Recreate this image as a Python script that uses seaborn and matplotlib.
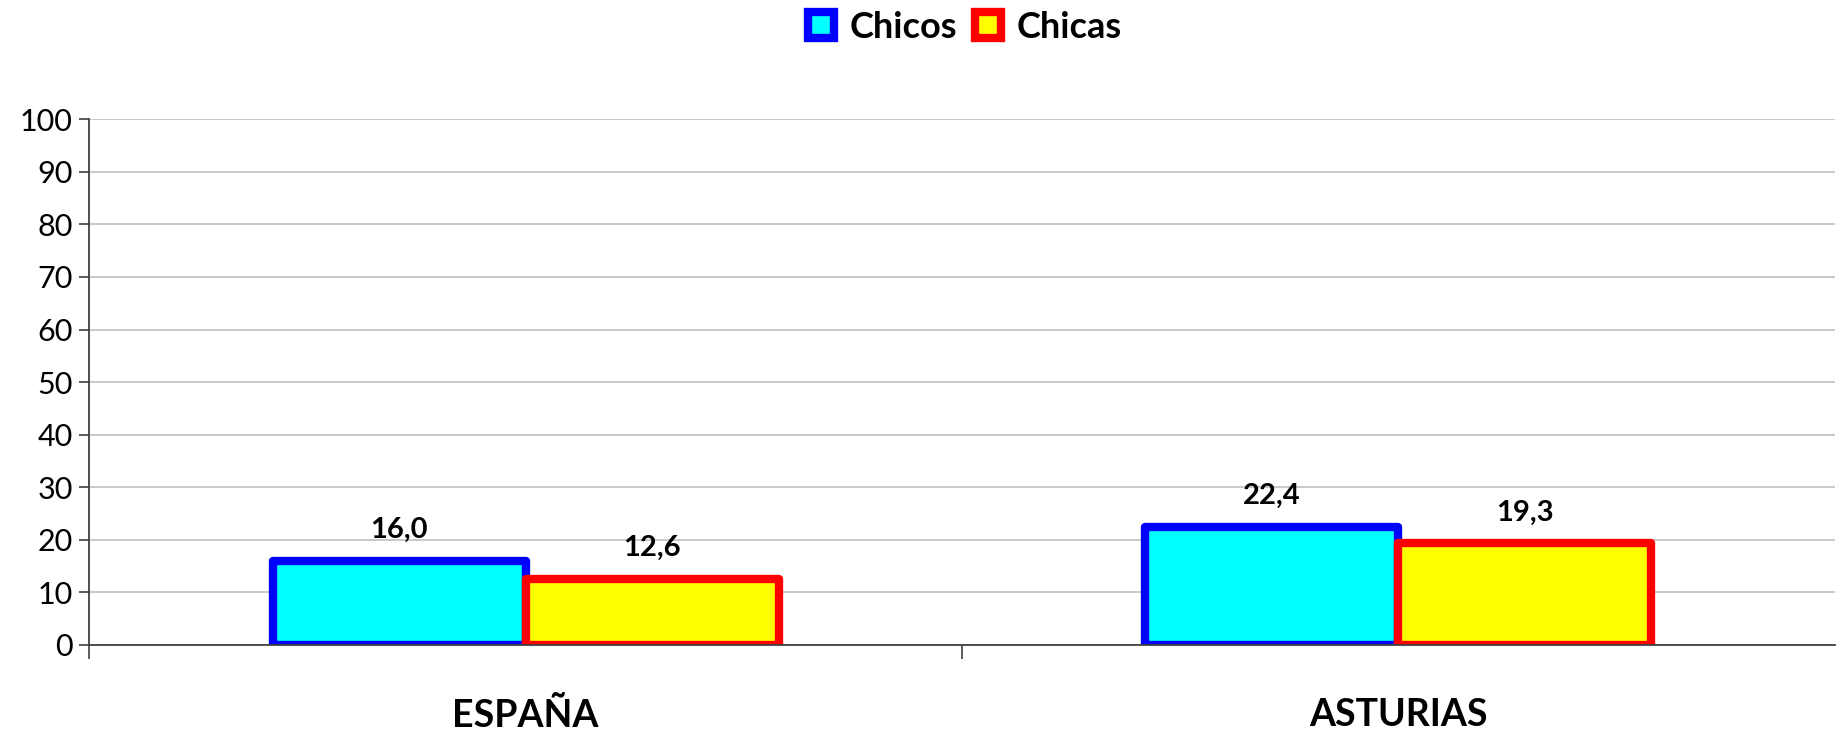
import pandas as pd
import numpy as np
import matplotlib
matplotlib.use("Agg")
import matplotlib.pyplot as plt
import matplotlib.patches as mpatches
import seaborn as sns

# Data
regions = ["ESPAÑA", "ASTURIAS"]
groups = ["Chicos", "Chicas"]
chicos = [16.0, 22.4]
chicas = [12.6, 19.3]

fill_colors = {"Chicos": "#00FFFF", "Chicas": "#FFFF00"}
edge_colors = {"Chicos": "#0000FF", "Chicas": "#FF0000"}

df = pd.DataFrame({
    "Region": regions * 2,
    "Grupo": ["Chicos"] * len(regions) + ["Chicas"] * len(regions),
    "Valor": chicos + chicas,
})

sns.set_style("white")
plt.rcParams['font.family'] = ['Lato', 'DejaVu Sans']
plt.rcParams['text.color'] = 'black'
plt.rcParams['xtick.color'] = 'black'
plt.rcParams['ytick.color'] = 'black'

fig = plt.figure(figsize=(18.42, 7.32), dpi=100)
ax = fig.add_axes([0.0485, 0.119, 0.9475, 0.718])

sns.barplot(
    data=df, x="Region", y="Valor", hue="Grupo",
    hue_order=groups, order=regions,
    palette=fill_colors, width=0.58, saturation=1,
    ax=ax, legend=False, errorbar=None,
)

# Edge styling and value labels
for cont, g in zip(ax.containers, groups):
    for p in cont:
        p.set_edgecolor(edge_colors[g])
        p.set_linewidth(6)
        p.set_joinstyle("round")
    labels = [f"{v:.1f}".replace(".", ",") for v in cont.datavalues]
    ax.bar_label(cont, labels=labels, padding=13, fontsize=21,
                 fontweight="bold", color="black")

ax.set_xlim(-0.5, 1.5)
ax.set_ylim(0, 100)
ax.set_yticks(np.arange(0, 101, 10))
ax.set_xlabel("")
ax.set_ylabel("")

ax.yaxis.grid(True, color="#c0c0c0", linewidth=1.2)
ax.set_axisbelow(True)

for s in ["top", "right"]:
    ax.spines[s].set_visible(False)
ax.spines["left"].set_color("#404040")
ax.spines["bottom"].set_color("#404040")
ax.spines["left"].set_linewidth(1.3)
ax.spines["bottom"].set_linewidth(1.3)

ax.tick_params(axis="y", labelsize=22, length=7, width=1.2,
               color="#404040", direction="out", left=True, pad=5)
ax.tick_params(axis="x", which="major", length=0, pad=38)
for lbl in ax.get_xticklabels():
    lbl.set_fontsize(27)
    lbl.set_fontweight("bold")

ax.set_xticks([-0.5, 0.5], minor=True)
ax.tick_params(axis="x", which="minor", length=10, width=1.2,
               color="#404040", direction="out", bottom=True)

# Legend
leg_handles = [
    mpatches.Patch(facecolor=fill_colors[g], edgecolor=edge_colors[g],
                   linewidth=6, joinstyle="round")
    for g in groups
]
fig.legend(
    leg_handles, groups, loc="center", bbox_to_anchor=(0.524, 0.963),
    ncol=2, frameon=False, handlelength=0.7, handleheight=0.7,
    handletextpad=0.45, columnspacing=0.5,
    prop={"size": 26, "weight": "bold"},
)

fig.savefig("out.png", dpi=100)
